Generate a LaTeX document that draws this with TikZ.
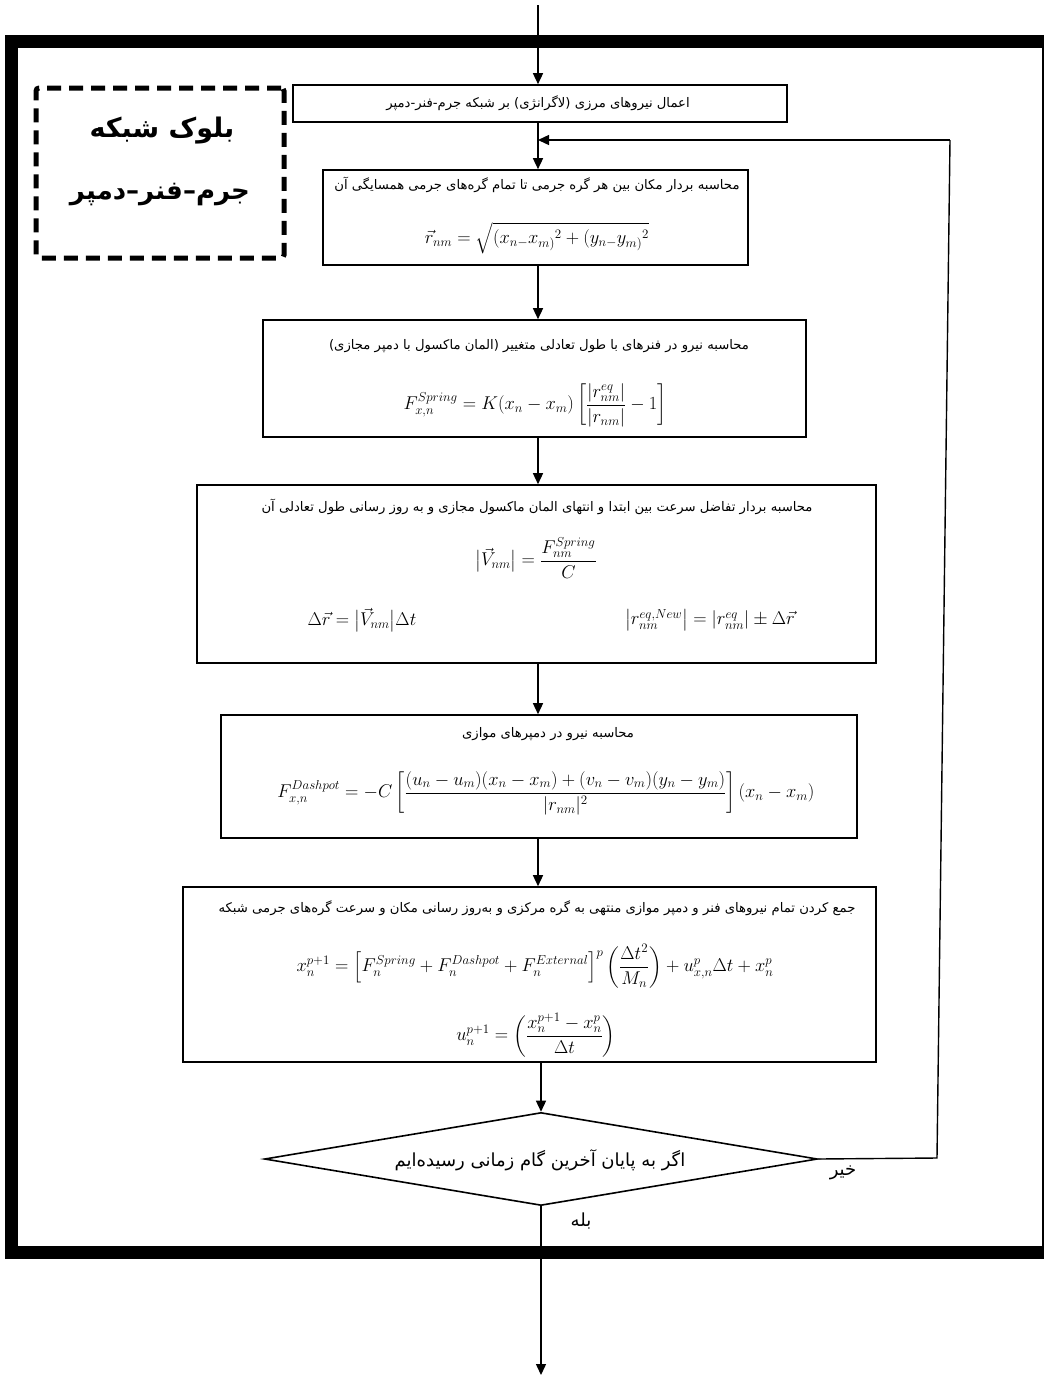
\RequirePackage{fix-cm}
\documentclass[tikz,border=0pt]{standalone}
\usepackage{fontspec}
\usepackage{amsmath}
\usetikzlibrary{arrows.meta,shapes.geometric}
\TeXXeTstate=1
\newfontfamily\persianfont[Script=Arabic]{DejaVu Sans}
\begin{document}
\begin{tikzpicture}[x=1pt,y=-1pt,>={Triangle[length=11pt,width=10pt]},
	box/.style={draw,line width=1.6pt,inner sep=0pt},
	txt/.style={font=\persianfont\fontsize{13.2}{15}\selectfont,inner sep=1pt},
	big/.style={font=\persianfont\fontsize{18}{21}\selectfont,inner sep=1pt},
	eq/.style={font=\fontsize{18.5}{21}\selectfont,inner sep=1pt},
	flow/.style={line width=1.4pt}]
	\useasboundingbox (0,0) rectangle (1044,1379);
	% قاب بیرونی
	\draw[line width=13pt] (11,41) rectangle (1048,1252);
	% بلوک
	\node[draw,line width=5pt,dash pattern=on 14pt off 8pt,rounded corners=3pt,minimum width=248pt,minimum height=170pt] (blk) at (160,173) {};
	\node[font=\persianfont\bfseries\fontsize{27}{30}\selectfont] (blk1) at (162,131) {\beginR بلوک شبکه\endR};
	\node[font=\persianfont\bfseries\fontsize{26}{30}\selectfont] (blk2) at (160,195) {\beginR جرم–فنر–دمپر\endR};
	% جعبه‌ها
	\node[box,minimum width=494pt,minimum height=37pt] (b1) at (540,103.5) {};
	\node[box,minimum width=425pt,minimum height=95pt] (b2) at (535.5,217.5) {};
	\node[box,minimum width=543pt,minimum height=117pt] (b3) at (534.5,378.5) {};
	\node[box,minimum width=679pt,minimum height=178pt] (b4) at (536.5,574) {};
	\node[box,minimum width=636pt,minimum height=123pt] (b5) at (539,776.5) {};
	\node[box,minimum width=693pt,minimum height=175pt] (b6) at (529.5,974.5) {};
	\node[draw,diamond,line width=1.6pt,minimum width=553pt,minimum height=93pt,inner sep=0pt] (dm) at (541,1159) {};
	% متن‌ها
	\node[txt] (t1) at (538,103) {\beginR اعمال نیروهای مرزی (لاگرانژی) بر شبکه جرم-فنر-دمپر\endR};
	\node[txt] (t2) at (537,185) {\beginR محاسبه بردار مکان بین هر گره جرمی تا تمام گره^^^^200cهای جرمی همسایگی آن\endR};
	\node[eq] (e2) at (537,238) {$\displaystyle\vec{r}_{nm}=\sqrt{(x_{n-}x_{m)}{}^{2}+(y_{n-}y_{m)}{}^{2}}$};
	\node[txt] (t3) at (539,346) {\beginR محاسبه نیرو در فنرهای با طول تعادلی متغییر (المان ماکسول با دمپر مجازی)\endR};
	\node[eq] (e3) at (535,405) {$\displaystyle F_{x,n}^{Spring}=K(x_n-x_m)\left[\frac{\left|r_{nm}^{eq}\right|}{|r_{nm}|}-1\right]$};
	\node[txt] (t4) at (537,507) {\beginR محاسبه بردار تفاضل سرعت بین ابتدا و انتهای المان ماکسول مجازی و به روز رسانی طول تعادلی آن\endR};
	\node[eq] (e4a) at (536,558) {$\displaystyle \bigl|\vec{V}_{nm}\bigr|=\frac{F_{nm}^{Spring}}{C}$};
	\node[eq] (e4b) at (362,620) {$\Delta\vec{r}=\bigl|\vec{V}_{nm}\bigr|\Delta t$};
	\node[eq] (e4c) at (710,620) {$\left|r_{nm}^{eq,New}\right|=\left|r_{nm}^{eq}\right|\pm\Delta\vec{r}$};
	\node[txt] (t5) at (548,734) {\beginR محاسبه نیرو در دمپرهای موازی\endR};
	\node[eq] (e5) at (546,793) {$\displaystyle F_{x,n}^{Dashpot}=-C\left[\frac{(u_n-u_m)(x_n-x_m)+(v_n-v_m)(y_n-y_m)}{|r_{nm}|^2}\right](x_n-x_m)$};
	\node[txt] (t6) at (537,908) {\beginR جمع کردن تمام نیروهای فنر و دمپر موازی منتهی به گره مرکزی و به^^^^200cروز رسانی مکان و سرعت گره^^^^200cهای جرمی شبکه\endR};
	\node[eq] (e6a) at (535,966) {$\displaystyle x_n^{p+1}=\left[F_n^{Spring}+F_n^{Dashpot}+F_n^{External}\right]^p\left(\frac{\Delta t^2}{M_n}\right)+u_{x,n}^p\Delta t+x_n^p$};
	\node[eq] (e6b) at (536,1035) {$\displaystyle u_n^{p+1}=\left(\frac{x_n^{p+1}-x_n^p}{\Delta t}\right)$};
	\node[big] (td) at (540,1160) {\beginR اگر به پایان آخرین گام زمانی رسیده^^^^200cایم\endR};
	\node[big] (no) at (843,1173) {\beginR خیر\endR};
	\node[big] (yes) at (581,1221) {\beginR بله\endR};
	% پیکان‌ها
	\coordinate (in) at (538,5);
	\coordinate (out) at (541,1375);
	\coordinate (join) at (538,140);
	\coordinate (c1) at (950,140);
	\coordinate (c2) at (937,1158);
	\draw[flow,->] (in) -- (in |- b1.north);
	\draw[flow,->] (in |- b1.south) -- (in |- b2.north);
	\draw[flow,->] (in |- b2.south) -- (in |- b3.north);
	\draw[flow,->] (in |- b3.south) -- (in |- b4.north);
	\draw[flow,->] (in |- b4.south) -- (in |- b5.north);
	\draw[flow,->] (in |- b5.south) -- (in |- b6.north);
	\draw[flow,->] (dm.north |- b6.south) -- (dm.north);
	\draw[flow,->] (dm.south) -- (out);
	\draw[flow] (dm.east) -- (c2) -- (c1);
	\draw[flow,->] (c1) -- (join);
\end{tikzpicture}
\end{document}
